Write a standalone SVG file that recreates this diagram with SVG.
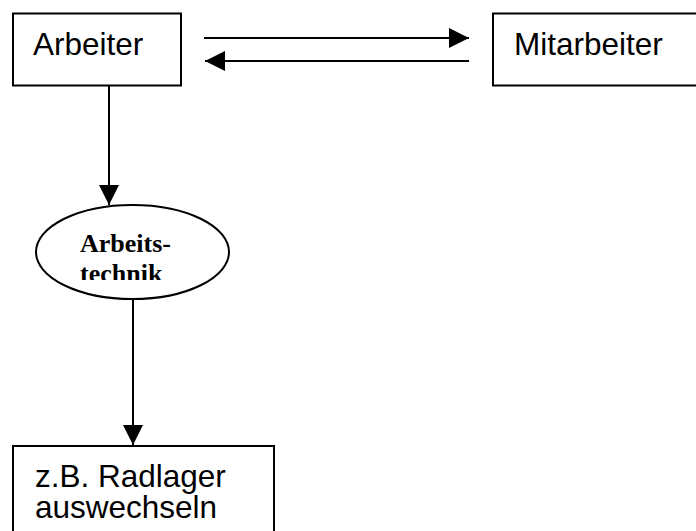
<svg xmlns="http://www.w3.org/2000/svg" width="696" height="531" viewBox="0 0 696 531">
<style>
.box{fill:#fff;stroke:#000;stroke-width:2}
.lbl{font-family:"Liberation Sans",Arial,sans-serif;font-size:31.5px;fill:#000}
.ser{font-family:"Liberation Serif","Times New Roman",serif;font-size:26px;font-weight:bold;fill:#000}
.con{stroke:#000;stroke-width:2;fill:none}
</style>
<defs>
<marker id="ah" viewBox="0 0 20 20" refX="20" refY="10" markerWidth="20" markerHeight="20" markerUnits="userSpaceOnUse" orient="auto">
<path d="M0,0 L20,10 L0,20 Z" fill="#000"/>
</marker>
<clipPath id="clip"><rect x="60" y="215" width="150" height="65"/></clipPath>
</defs>
<g id="connectors">
<line class="con" x1="204" y1="38" x2="469" y2="38" marker-end="url(#ah)"/>
<line class="con" x1="469" y1="61" x2="205" y2="61" marker-end="url(#ah)"/>
<line class="con" x1="109" y1="86" x2="109" y2="205" marker-end="url(#ah)"/>
<line class="con" x1="133" y1="299" x2="133" y2="445" marker-end="url(#ah)"/>
</g>
<g id="arbeiter">
<rect class="box" x="13" y="13.5" width="168" height="72"/>
<text class="lbl" x="33" y="55">Arbeiter</text>
</g>
<g id="mitarbeiter">
<rect class="box" x="493" y="13.5" width="220" height="72"/>
<text class="lbl" x="514" y="55">Mitarbeiter</text>
</g>
<g id="arbeitstechnik">
<ellipse class="box" cx="132.5" cy="252" rx="96.5" ry="47"/>
<g clip-path="url(#clip)">
<text class="ser" x="80" y="252">Arbeits-</text>
<text class="ser" x="80" y="282">technik</text>
</g>
</g>
<g id="radlager">
<rect class="box" x="13" y="446" width="261" height="100"/>
<text class="lbl" x="35" y="487">z.B. Radlager</text>
<text class="lbl" x="35" y="518">auswechseln</text>
</g>
</svg>
